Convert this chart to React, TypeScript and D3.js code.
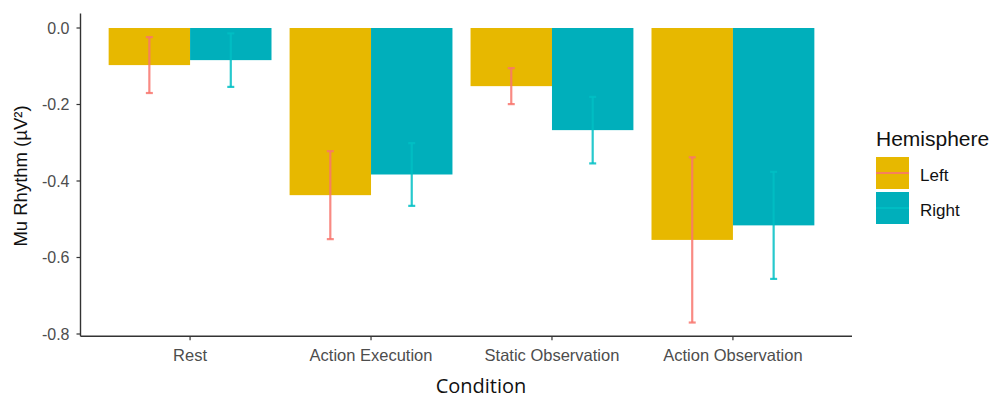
import { useEffect, useRef } from "react";
import * as d3 from "d3";

const conditions = ["Rest", "Action Execution", "Static Observation", "Action Observation"];
const hemispheres = ["Left", "Right"];
const leftMean = [-0.097, -0.437, -0.152, -0.554];
const rightMean = [-0.084, -0.383, -0.267, -0.516];
const leftSe = [0.073, 0.115, 0.047, 0.216];
const rightSe = [0.07, 0.082, 0.087, 0.14];
const yTicks = [0, -0.2, -0.4, -0.6, -0.8];

const fillColors = ["#E7B800", "#00AFBB"];
const errColors = ["#F8766D", "#00BFC4"];

const App = () => {
  const svgRef = useRef<SVGSVGElement>(null);

  useEffect(() => {
    const svg = d3.select(svgRef.current);
    svg.selectAll("*").remove();

    const font = "'Liberation Sans', Arial, sans-serif";

    // discrete axis with ggplot-like 0.6 expansion
    const x = d3.scaleLinear().domain([0.4, 4.6]).range([81.5, 841.5]);
    const y = d3.scaleLinear().domain([0, -0.8]).range([28, 334]);
    const yTop = y(0.038);
    const yBottom = y(-0.806);

    const rows = conditions.flatMap((c, i) => [
      { c, i, h: 0, mean: leftMean[i], se: leftSe[i] },
      { c, i, h: 1, mean: rightMean[i], se: rightSe[i] },
    ]);

    const barW = x(1.45) - x(1);
    const cx = (d) => x(d.i + 1) + (d.h === 0 ? -barW / 2 : barW / 2);

    const g = svg.append("g");

    // bars
    g.selectAll(".bar")
      .data(rows)
      .enter()
      .append("rect")
      .attr("x", (d) => cx(d) - barW / 2)
      .attr("width", barW)
      .attr("y", y(0))
      .attr("height", (d) => y(d.mean) - y(0))
      .attr("fill", (d) => fillColors[d.h]);

    // error bars
    const capW = 3.5;
    const eb = g.selectAll(".eb").data(rows).enter().append("g")
      .attr("stroke", (d) => errColors[d.h])
      .attr("stroke-width", 2.2)
      .attr("stroke-opacity", 0.85);
    eb.append("line")
      .attr("x1", cx).attr("x2", cx)
      .attr("y1", (d) => y(d.mean + d.se))
      .attr("y2", (d) => y(d.mean - d.se));
    eb.append("line")
      .attr("x1", (d) => cx(d) - capW).attr("x2", (d) => cx(d) + capW)
      .attr("y1", (d) => y(d.mean + d.se)).attr("y2", (d) => y(d.mean + d.se));
    eb.append("line")
      .attr("x1", (d) => cx(d) - capW).attr("x2", (d) => cx(d) + capW)
      .attr("y1", (d) => y(d.mean - d.se)).attr("y2", (d) => y(d.mean - d.se));

    // y axis
    const axisX = 80.5;
    g.append("line")
      .attr("x1", axisX).attr("x2", axisX)
      .attr("y1", yTop).attr("y2", yBottom)
      .attr("stroke", "#333").attr("stroke-width", 1.4);
    yTicks.forEach((t) => {
      g.append("line")
        .attr("x1", axisX - 4).attr("x2", axisX)
        .attr("y1", y(t)).attr("y2", y(t))
        .attr("stroke", "#333").attr("stroke-width", 1.2);
      g.append("text")
        .attr("x", axisX - 11).attr("y", y(t))
        .attr("dy", "0.35em")
        .attr("text-anchor", "end")
        .attr("font-family", font).attr("font-size", 16)
        .attr("fill", "#4D4D4D")
        .text(d3.format(".1f")(t).replace("−", "-"));
    });

    // x axis
    g.append("line")
      .attr("x1", axisX).attr("x2", 852)
      .attr("y1", yBottom).attr("y2", yBottom)
      .attr("stroke", "#333").attr("stroke-width", 1.4);
    conditions.forEach((c, i) => {
      g.append("line")
        .attr("x1", x(i + 1)).attr("x2", x(i + 1))
        .attr("y1", yBottom).attr("y2", yBottom + 4)
        .attr("stroke", "#333").attr("stroke-width", 1.2);
      g.append("text")
        .attr("x", x(i + 1)).attr("y", yBottom + 25)
        .attr("text-anchor", "middle")
        .attr("font-family", font).attr("font-size", 16.5)
        .attr("fill", "#4D4D4D")
        .text(c);
    });

    // axis titles
    g.append("text")
      .attr("x", 481).attr("y", 393)
      .attr("text-anchor", "middle")
      .attr("font-family", "'Open Sans', sans-serif").attr("font-size", 20)
      .attr("fill", "#111")
      .text("Condition");
    g.append("text")
      .attr("transform", `translate(27,176) rotate(-90)`)
      .attr("text-anchor", "middle")
      .attr("font-family", font).attr("font-size", 18.5)
      .attr("fill", "#111")
      .text("Mu Rhythm (µV²)");

    // legend
    const lg = g.append("g").attr("transform", "translate(876,0)");
    lg.append("text")
      .attr("x", 0).attr("y", 146)
      .attr("font-family", font).attr("font-size", 21)
      .attr("fill", "#111")
      .text("Hemisphere");
    hemispheres.forEach((h, k) => {
      const top = 157 + k * 35;
      lg.append("rect")
        .attr("x", 0).attr("y", top).attr("width", 33).attr("height", 32)
        .attr("fill", fillColors[k]);
      lg.append("line")
        .attr("x1", 0).attr("x2", 33)
        .attr("y1", top + 16).attr("y2", top + 16)
        .attr("stroke", errColors[k]).attr("stroke-width", 2.2)
        .attr("stroke-opacity", 0.85);
      lg.append("text")
        .attr("x", 44).attr("y", top + 18)
        .attr("dy", "0.35em")
        .attr("font-family", font).attr("font-size", 17)
        .attr("fill", "#111")
        .text(h);
    });
  }, []);

  return (
    <svg
      ref={svgRef}
      width={996}
      height={401}
      style={{ position: "absolute", left: 0, top: 0, background: "#fff" }}
    ></svg>
  );
};

export default App;
